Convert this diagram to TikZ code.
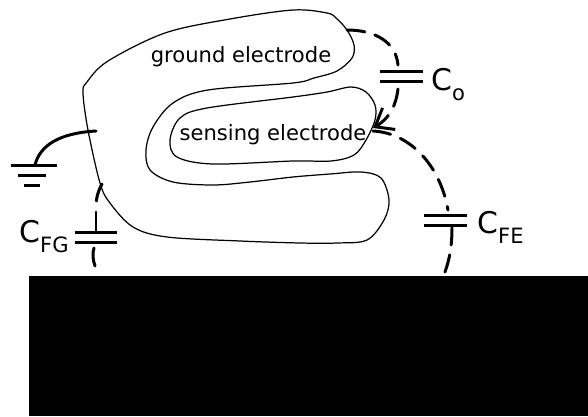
\documentclass[tikz,border=0pt]{standalone}
\usepackage{fontspec}
\setmainfont{DejaVu Sans}
\usetikzlibrary{arrows.meta}
\newcommand{\capname}[2]{\fontsize{17}{17}\selectfont #1\raisebox{-.36em}{\fontsize{12}{12}\selectfont #2}}
\begin{document}
\begin{tikzpicture}[x=.02cm, y=-.02cm, electrode/.style={line width=.7pt}, plate/.style={fill, inner sep=0, minimum width=.86cm, minimum height=.06cm}, earth/.style={fill, inner sep=0, minimum height=.06cm}, link/.style={line width=1.7pt, line cap=round, dash pattern=on .36cm off .21cm}, lead/.style={line width=1.7pt, line cap=round}, label/.style={inner sep=0, font=\fontsize{12}{12}\selectfont}]
    \useasboundingbox (0,0) rectangle (588,416);
    \fill (29,276) rectangle (588,416);

    \draw[electrode] plot[smooth cycle, tension=.55] coordinates {(83,93) (87,82) (108,61) (165,33) (230,19) (293,10) (327,13) (336,18) (347,30) (354,45) (352,58) (337,71) (314,78) (293,83) (208,90) (173,103) (153,127) (146,150) (150,170) (173,182) (213,185) (250,182) (293,177) (330,174) (361,172) (381,178) (389,200) (384,220) (367,240) (337,243) (300,243) (240,241) (167,237) (133,227) (110,203) (100,183) (88,130)};
    \draw[electrode] plot[smooth cycle, tension=.55] coordinates {(170,140) (180,118) (207,108) (293,97) (327,92) (351,87) (366,92) (375,105) (375,120) (366,140) (354,155) (331,161) (293,161) (213,164) (177,157)};

    \node[label](ground) at (241,57){ground electrode};
    \node[label](sensing) at (273,135){sensing electrode};

    \node[plate](Co1) at (401,71){};
    \node[plate](Co2) at (401,81){};
    \node[plate](Cfe1) at (445,215){};
    \node[plate](Cfe2) at (445,225){};
    \node[plate](Cfg1) at (96,232){};
    \node[plate](Cfg2) at (96,242){};
    \node[inner sep=0, anchor=base west](Co) at (431,90){\capname{C}{o}};
    \node[inner sep=0, anchor=base east](Cfg) at (69,242){\capname{C}{FG}};
    \node[inner sep=0, anchor=base west](Cfe) at (477,233){\capname{C}{FE}};

    \node[earth, minimum width=.92cm](E1) at (34,165){};
    \node[earth, minimum width=.58cm](E2) at (32,175){};
    \node[earth, minimum width=.34cm](E3) at (32,185){};

    \coordinate (wire) at (96,131);
    \coordinate (Coa) at (347,30);
    \coordinate (Cob) at (398,65);
    \coordinate (Coc) at (398,89);
    \coordinate (Cod) at (373,128);
    \coordinate (Cfea) at (373,131);
    \coordinate (Cfeb) at (448,210);
    \coordinate (Cfec) at (452,227);
    \coordinate (Cfed) at (445,272);
    \coordinate (Cfga) at (102,184);
    \coordinate (Cfgb) at (96,212);
    \coordinate (Cfgc) at (94,248);
    \coordinate (Cfgd) at (95,266);

    \draw[lead] (wire) .. controls (60,133) and (40,145) .. (35,165);
    \draw[link] (Coa) .. controls (375,30) and (396,42) .. (Cob);
    \draw[link, -{Straight Barb[length=.32cm, width=.5cm]}] (Coc) .. controls (396,105) and (390,118) .. (Cod);
    \draw[link] (Cfea) .. controls (410,133) and (440,165) .. (Cfeb);
    \draw[link, dash pattern=on .36cm off .2cm] (Cfec) .. controls (452,245) and (450,258) .. (Cfed);
    \draw[link, dash pattern=on .36cm off .28cm] (Cfga) .. controls (96,195) and (96,202) .. (Cfgb);
    \draw[lead] (Cfgb) -- (Cfg1);
    \draw[lead] (Cfgc) .. controls (92,254) and (93,260) .. (Cfgd);
\end{tikzpicture}
\end{document}
